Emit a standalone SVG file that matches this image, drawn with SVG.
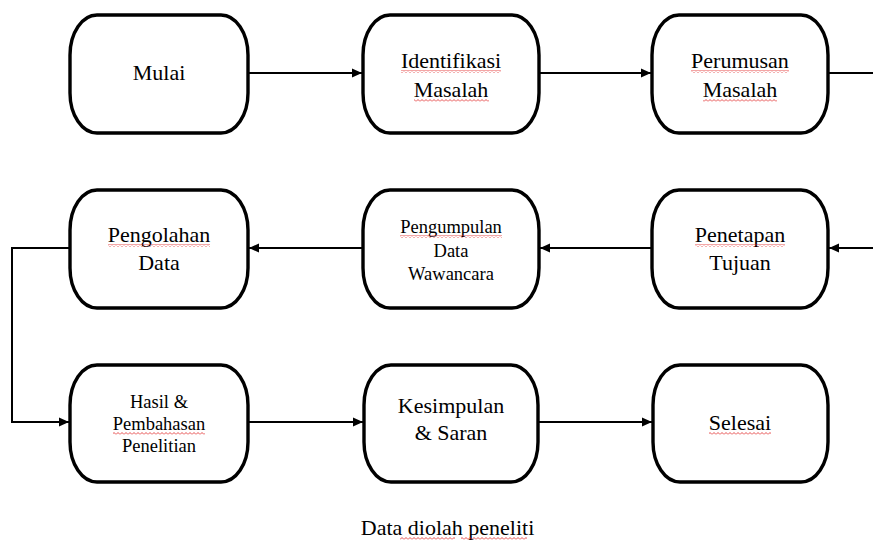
<svg xmlns="http://www.w3.org/2000/svg" width="873" height="544" viewBox="0 0 873 544">
<style>
.box{fill:#fff;stroke:#000;stroke-width:3.4}
.t{font-family:'Liberation Serif','Times New Roman',serif;font-size:22px;fill:#000;text-anchor:middle}
.s{font-size:18.5px}
.c{fill:none;stroke:#000;stroke-width:2}
.sq{fill:url(#squig)}
</style>
<defs>
<marker id="ah" viewBox="0 0 10 10" refX="10" refY="5" markerWidth="10" markerHeight="10" markerUnits="userSpaceOnUse" orient="auto">
<path d="M0,0.5 L10,5 L0,9.5 Z" fill="#000"/>
</marker>
<pattern id="squig" width="4" height="3" patternUnits="userSpaceOnUse">
<path d="M0,2.5 L2,0.5 L4,2.5" fill="none" stroke="#e02020" stroke-width="0.8"/>
</pattern>
</defs>
<rect width="873" height="544" fill="#fff"/>
<g id="connectors">
<path class="c" d="M248,73 H362" marker-end="url(#ah)"/>
<path class="c" d="M539,73 H651" marker-end="url(#ah)"/>
<path class="c" d="M828,73 H873"/>
<path class="c" d="M873,248 H829" marker-end="url(#ah)"/>
<path class="c" d="M652,248 H540" marker-end="url(#ah)"/>
<path class="c" d="M363,248 H249" marker-end="url(#ah)"/>
<path class="c" d="M70,248 H12 V422 H69" marker-end="url(#ah)"/>
<path class="c" d="M248,422 H363" marker-end="url(#ah)"/>
<path class="c" d="M538,422 H652" marker-end="url(#ah)"/>
</g>
<g id="mulai">
<rect class="box" x="70" y="15" width="178" height="118" rx="27" ry="40"/>
<text class="t" x="159" y="80">Mulai</text>
</g>
<g id="identifikasi">
<rect class="box" x="363" y="15" width="176" height="118" rx="27" ry="40"/>
<text class="t" x="451" y="68">Identifikasi</text>
<text class="t" x="451" y="97">Masalah</text>
<rect class="sq" x="401" y="70" width="100" height="3"/>
<rect class="sq" x="414" y="99" width="75" height="3"/>
</g>
<g id="perumusan">
<rect class="box" x="652" y="15" width="176" height="118" rx="27" ry="40"/>
<text class="t" x="740" y="68">Perumusan</text>
<text class="t" x="740" y="97">Masalah</text>
<rect class="sq" x="691" y="70" width="98" height="3"/>
<rect class="sq" x="703" y="99" width="74" height="3"/>
</g>
<g id="penetapan">
<rect class="box" x="652" y="190" width="176" height="118" rx="27" ry="40"/>
<text class="t" x="740" y="242">Penetapan</text>
<text class="t" x="740" y="270">Tujuan</text>
<rect class="sq" x="695" y="244" width="90" height="3"/>
</g>
<g id="pengumpulan">
<rect class="box" x="363" y="190" width="176" height="118" rx="27" ry="40"/>
<text class="t s" x="451" y="233">Pengumpulan</text>
<text class="t s" x="451" y="257">Data</text>
<text class="t s" x="451" y="280">Wawancara</text>
<rect class="sq" x="400" y="235" width="102" height="3"/>
</g>
<g id="pengolahan">
<rect class="box" x="70" y="190" width="178" height="118" rx="27" ry="40"/>
<text class="t" x="159" y="242">Pengolahan</text>
<text class="t" x="159" y="270">Data</text>
<rect class="sq" x="108" y="244" width="102" height="3"/>
</g>
<g id="hasil">
<rect class="box" x="70" y="365" width="178" height="117" rx="27" ry="40"/>
<text class="t s" x="159" y="408">Hasil &amp;</text>
<text class="t s" x="159" y="430">Pembahasan</text>
<text class="t s" x="159" y="452">Penelitian</text>
<rect class="sq" x="113" y="432" width="92" height="3"/>
</g>
<g id="kesimpulan">
<rect class="box" x="364" y="365" width="174" height="117" rx="27" ry="40"/>
<text class="t" x="451" y="413">Kesimpulan</text>
<text class="t" x="451" y="440">&amp; Saran</text>
</g>
<g id="selesai">
<rect class="box" x="653" y="365" width="175" height="117" rx="27" ry="40"/>
<text class="t" x="740" y="430">Selesai</text>
<rect class="sq" x="709" y="432" width="62" height="3"/>
</g>
<g id="caption">
<text class="t" x="447.5" y="535">Data diolah peneliti</text>
<rect class="sq" x="400" y="537" width="55" height="3"/>
<rect class="sq" x="461" y="537" width="66" height="3"/>
</g>
</svg>
